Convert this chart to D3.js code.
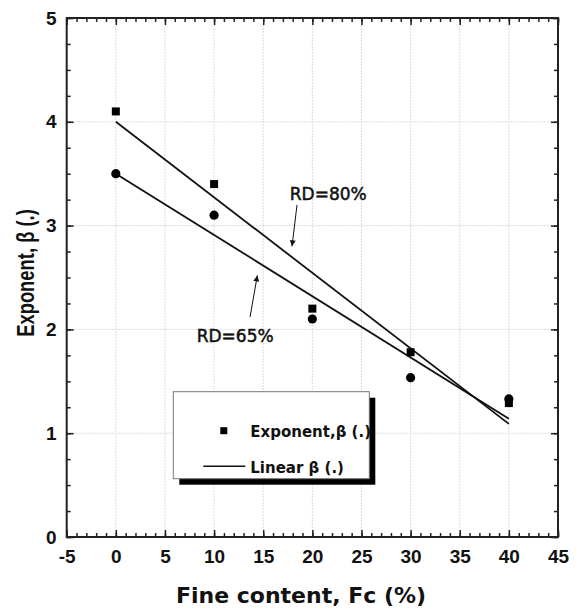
<!DOCTYPE html>
<html>
<head>
<meta charset="utf-8">
<script src="https://cdn.jsdelivr.net/npm/d3@7"></script>
<style>
  body { margin: 0; background: #fff; }
  .tick text { font-family: "Liberation Sans", Arial, sans-serif; font-weight: bold; font-size: 19px; fill: #111; }
</style>
</head>
<body>
<div id="chart"></div>
<script>
// fine content (%) and fitted exponent
const fineContent = [0, 10, 20, 30, 40];
const betaRD80 = [4.1, 3.4, 2.2, 1.78, 1.29];
const betaRD65 = [3.5, 3.1, 2.1, 1.535, 1.33];

// linear fits: value at Fc = 0 and Fc = 40
const fitRange = [0, 40];
const fitRD80 = [4.0, 1.09];
const fitRD65 = [3.5, 1.14];

const xTicks = [-5, 0, 5, 10, 15, 20, 25, 30, 35, 40, 45];
const yTicks = [0, 1, 2, 3, 4, 5];

const W = 580, H = 613;
const margin = { left: 66.7, right: 22, top: 18, bottom: 76 };

const svg = d3.select('#chart').append('svg')
    .attr('width', W)
    .attr('height', H);

const x = d3.scaleLinear().domain([-5, 45]).range([margin.left, W - margin.right]);
const y = d3.scaleLinear().domain([0, 5]).range([H - margin.bottom, margin.top]);

// plain hyphen for negatives, like the original
const fmt = (d) => String(d);

const defs = svg.append('defs');
defs.append('marker')
    .attr('id', 'arrow')
    .attr('viewBox', '0 0 10 10')
    .attr('refX', 10)
    .attr('refY', 5)
    .attr('markerWidth', 9)
    .attr('markerHeight', 6)
    .attr('markerUnits', 'userSpaceOnUse')
    .attr('orient', 'auto')
    .append('path')
    .attr('d', 'M0,0L10,5L0,10Z')
    .attr('fill', '#111');

// grid
const grid = svg.append('g').attr('class', 'grid');
grid.selectAll('.gx')
    .data(xTicks.slice(1, -1))
    .enter().append('line')
    .attr('x1', (d) => x(d)).attr('x2', (d) => x(d))
    .attr('y1', y(0)).attr('y2', y(5))
    .attr('stroke', '#dcdcdc')
    .attr('stroke-width', 1)
    .attr('stroke-dasharray', '2,1');
grid.selectAll('.gy')
    .data(yTicks.slice(1, -1))
    .enter().append('line')
    .attr('x1', x(-5)).attr('x2', x(45))
    .attr('y1', (d) => y(d)).attr('y2', (d) => y(d))
    .attr('stroke', '#dcdcdc')
    .attr('stroke-width', 1)
    .attr('stroke-dasharray', '2,1');

// axes (inward ticks on all four sides)
const xMinor = d3.range(-5, 45.5, 1);
const yMinor = d3.range(0, 5.01, 0.25);

function styleAxis(g) {
    g.select('.domain').remove();
    g.selectAll('.tick line').attr('stroke', '#222').attr('stroke-width', 1.5);
}

svg.append('g')
    .attr('transform', `translate(0,${y(0)})`)
    .call(d3.axisBottom(x).tickValues(xMinor).tickSize(-4).tickFormat(''))
    .call(styleAxis);
svg.append('g')
    .attr('transform', `translate(0,${y(0)})`)
    .call(d3.axisBottom(x).tickValues(xTicks).tickSize(-7).tickPadding(13).tickFormat(fmt))
    .call(styleAxis);
svg.append('g')
    .attr('transform', `translate(0,${y(5)})`)
    .call(d3.axisTop(x).tickValues(xMinor).tickSize(-4).tickFormat(''))
    .call(styleAxis);
svg.append('g')
    .attr('transform', `translate(0,${y(5)})`)
    .call(d3.axisTop(x).tickValues(xTicks).tickSize(-7).tickFormat(''))
    .call(styleAxis);

svg.append('g')
    .attr('transform', `translate(${x(-5)},0)`)
    .call(d3.axisLeft(y).tickValues(yMinor).tickSize(-4).tickFormat(''))
    .call(styleAxis);
svg.append('g')
    .attr('transform', `translate(${x(-5)},0)`)
    .call(d3.axisLeft(y).tickValues(yTicks).tickSize(-7).tickPadding(10).tickFormat(fmt))
    .call(styleAxis);
svg.append('g')
    .attr('transform', `translate(${x(45)},0)`)
    .call(d3.axisRight(y).tickValues(yMinor).tickSize(-4).tickFormat(''))
    .call(styleAxis);
svg.append('g')
    .attr('transform', `translate(${x(45)},0)`)
    .call(d3.axisRight(y).tickValues(yTicks).tickSize(-7).tickFormat(''))
    .call(styleAxis);

// frame
svg.append('rect')
    .attr('x', x(-5)).attr('y', y(5))
    .attr('width', x(45) - x(-5))
    .attr('height', y(0) - y(5))
    .attr('fill', 'none')
    .attr('stroke', '#222')
    .attr('stroke-width', 2);

// fit lines
const line = d3.line().x((d) => x(d[0])).y((d) => y(d[1]));
[fitRD80, fitRD65].forEach((fit) => {
    svg.append('path')
        .attr('d', line(d3.zip(fitRange, fit)))
        .attr('fill', 'none')
        .attr('stroke', '#111')
        .attr('stroke-width', 1.8);
});

// points
svg.selectAll('.sq')
    .data(d3.zip(fineContent, betaRD80))
    .enter().append('rect')
    .attr('x', (d) => x(d[0]) - 4)
    .attr('y', (d) => y(d[1]) - 4)
    .attr('width', 8).attr('height', 8)
    .attr('fill', '#000');
svg.selectAll('.ci')
    .data(d3.zip(fineContent, betaRD65))
    .enter().append('circle')
    .attr('cx', (d) => x(d[0]))
    .attr('cy', (d) => y(d[1]))
    .attr('r', 4.6)
    .attr('fill', '#000');

// annotations
const notes = [
    { label: 'RD=80%', at: [17.7, 3.25], from: [18.44, 3.2], to: [17.93, 2.8] },
    { label: 'RD=65%', at: [8.23, 1.88], from: [13.66, 2.12], to: [14.4, 2.52] },
];
notes.forEach((n) => {
    svg.append('text')
        .attr('x', x(n.at[0]))
        .attr('y', y(n.at[1]))
        .style('font-family', '"DejaVu Sans", sans-serif')
        .style('font-size', '17px')
        .attr('fill', '#111')
        .attr('stroke', '#111')
        .attr('stroke-width', 0.5)
        .text(n.label);
    svg.append('line')
        .attr('x1', x(n.from[0])).attr('y1', y(n.from[1]))
        .attr('x2', x(n.to[0])).attr('y2', y(n.to[1]))
        .attr('stroke', '#111')
        .attr('stroke-width', 1)
        .attr('marker-end', 'url(#arrow)');
});

// legend
const lg = svg.append('g').attr('transform', 'translate(173.3,391.7)');
lg.append('rect')
    .attr('x', 6).attr('y', 6)
    .attr('width', 196).attr('height', 87)
    .attr('fill', '#000');
lg.append('rect')
    .attr('width', 196).attr('height', 87)
    .attr('fill', '#fff')
    .attr('stroke', '#777')
    .attr('stroke-width', 1);
lg.append('rect')
    .attr('x', 47).attr('y', 35.5)
    .attr('width', 7).attr('height', 7)
    .attr('fill', '#000');
lg.append('line')
    .attr('x1', 30).attr('x2', 72)
    .attr('y1', 74.5).attr('y2', 74.5)
    .attr('stroke', '#111')
    .attr('stroke-width', 1.5);
const legendText = ['Exponent,β (.)', 'Linear β (.)'];
lg.selectAll('.lt')
    .data(legendText)
    .enter().append('text')
    .attr('x', 77)
    .attr('y', (d, i) => (i === 0 ? 45 : 81.5))
    .style('font-family', '"DejaVu Sans", sans-serif')
    .style('font-size', '15px')
    .style('font-weight', 'bold')
    .attr('fill', '#111')
    .text((d) => d);

// axis titles
svg.append('text')
    .attr('x', 301)
    .attr('y', 603)
    .attr('text-anchor', 'middle')
    .style('font-family', '"DejaVu Sans", sans-serif')
    .style('font-size', '22px')
    .style('font-weight', 'bold')
    .attr('fill', '#111')
    .text('Fine content, Fc (%)');

svg.append('text')
    .attr('transform', 'translate(33.5,273) rotate(-90) scale(0.8,1)')
    .attr('text-anchor', 'middle')
    .style('font-family', '"Liberation Sans", Arial, sans-serif')
    .style('font-size', '23px')
    .style('font-weight', 'bold')
    .attr('fill', '#111')
    .text('Exponent, β (.)');
</script>
</body>
</html>
